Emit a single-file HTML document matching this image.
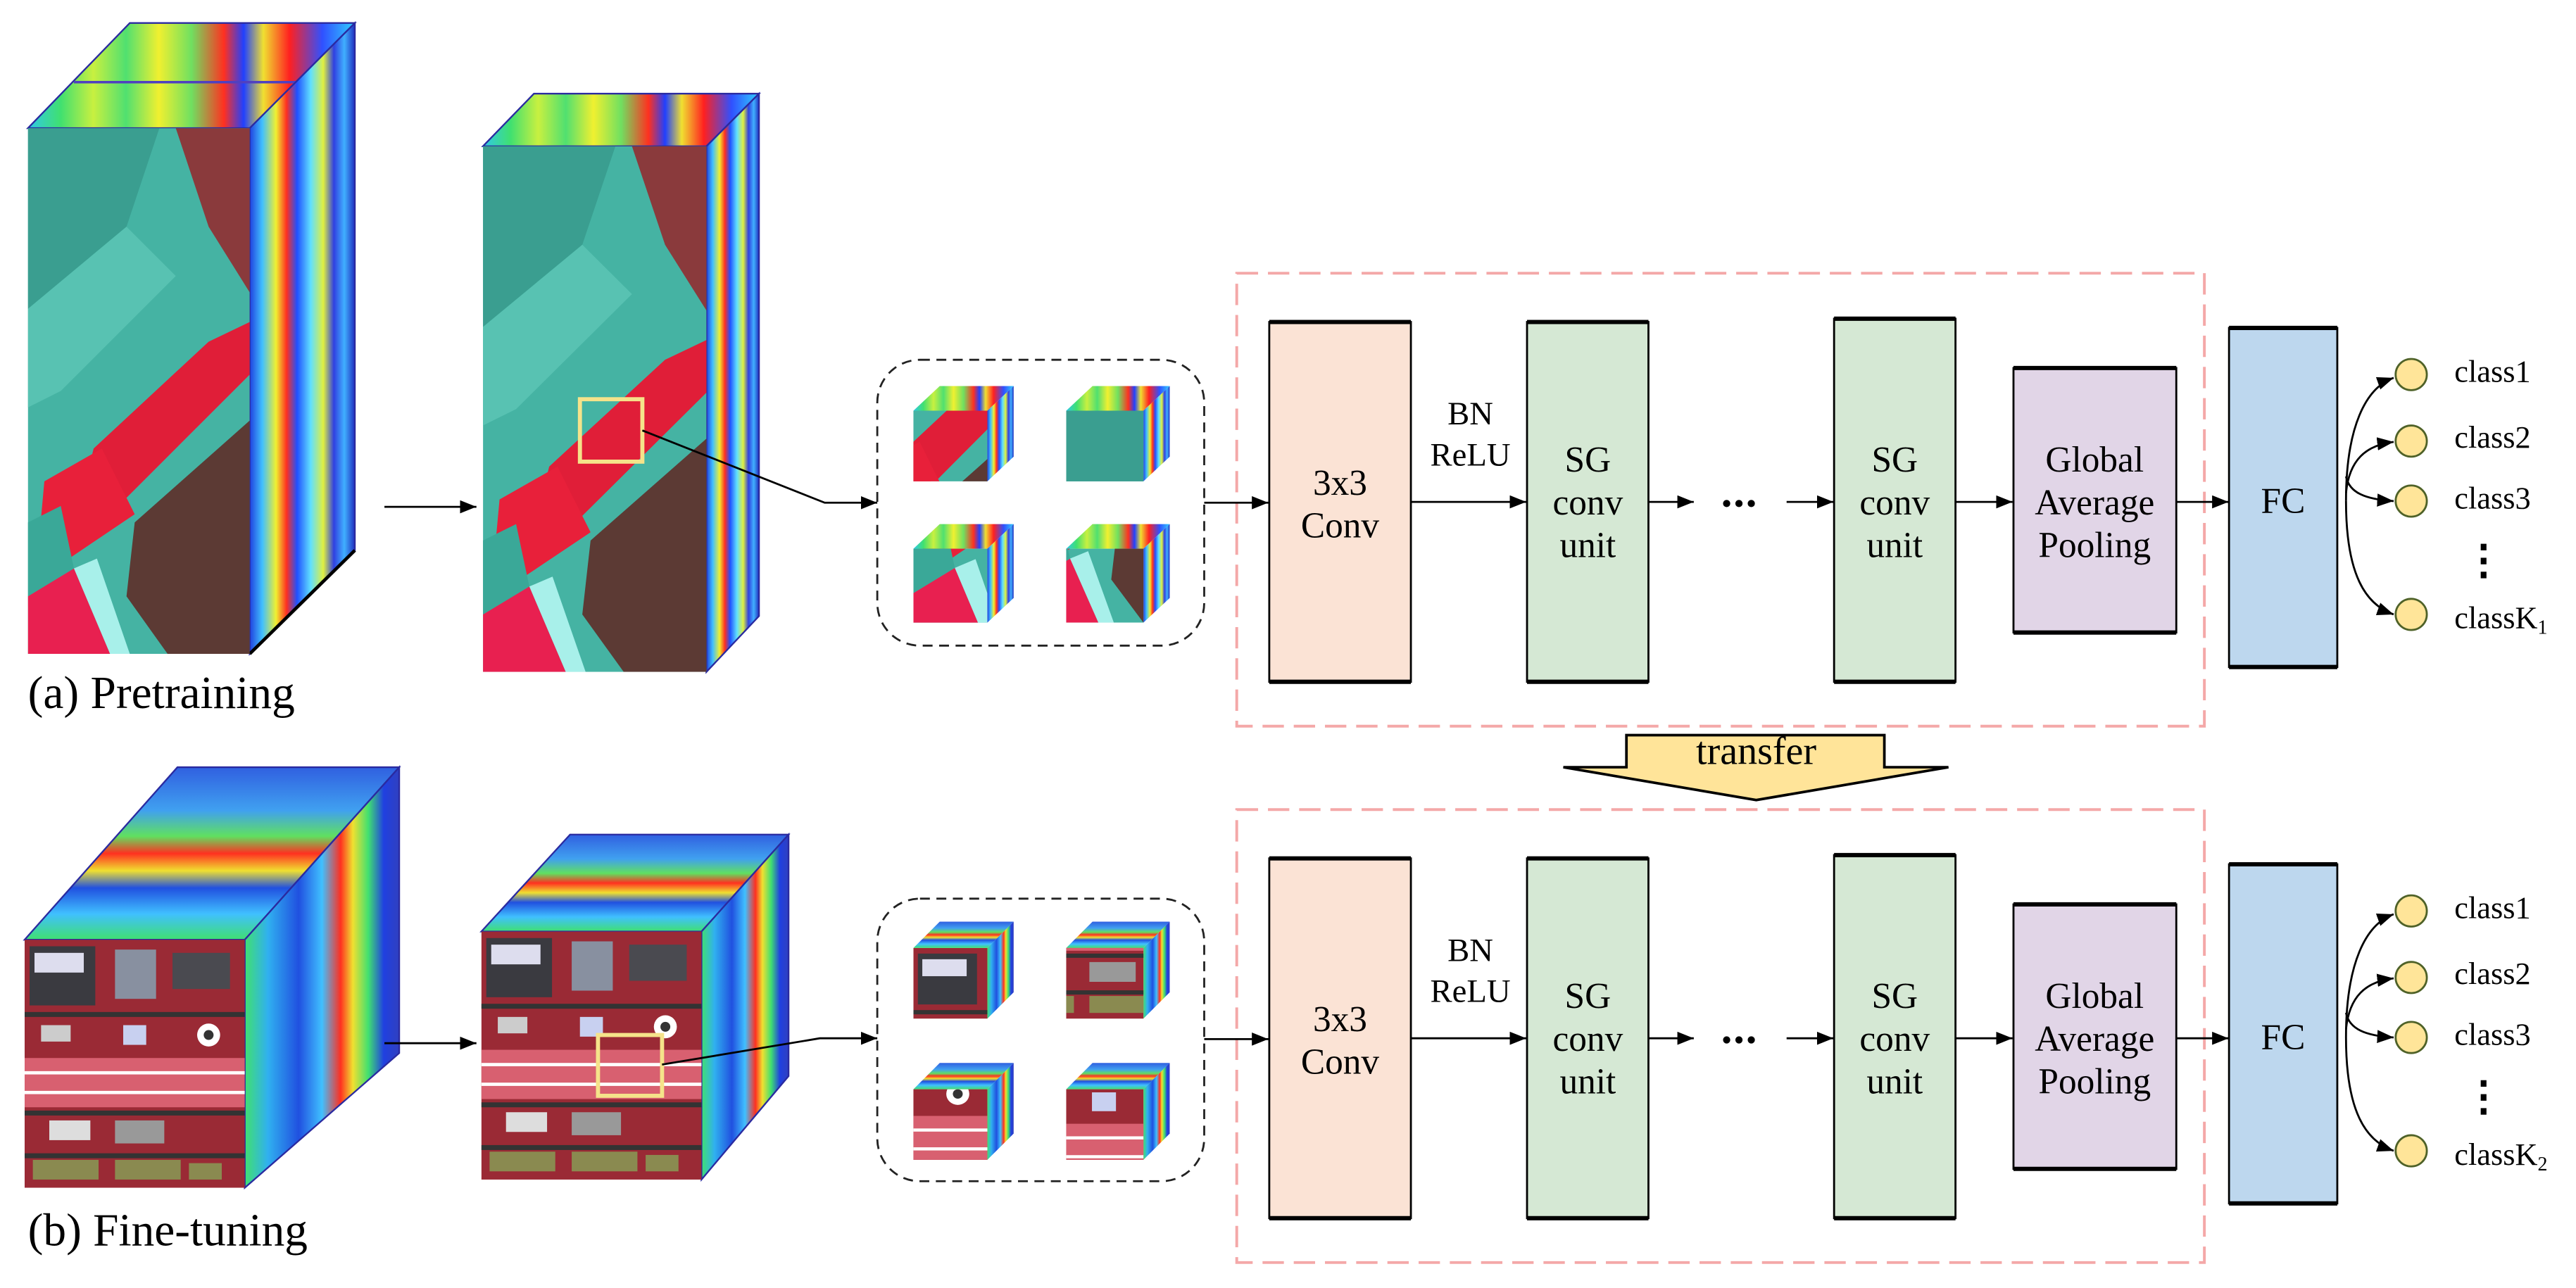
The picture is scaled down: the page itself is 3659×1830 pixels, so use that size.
<!DOCTYPE html>
<html><head><meta charset="utf-8"><style>
html,body{margin:0;padding:0;background:#fff;}
svg{display:block;}
text{font-family:"Liberation Serif","Times New Roman",serif;fill:#000;}
</style></head><body>
<svg width="3659" height="1830" viewBox="0 0 1568 784" preserveAspectRatio="none" xmlns="http://www.w3.org/2000/svg" font-family="'Liberation Serif', serif">
<defs>
<marker id="ar" markerWidth="10" markerHeight="8" refX="10" refY="4" orient="auto" markerUnits="userSpaceOnUse">
<path d="M0,0 L10,4 L0,8 Z" fill="#000"/></marker>
<linearGradient id="hx" x1="0" y1="0" x2="1" y2="0">
<stop offset="0" stop-color="#30c8e8"/><stop offset=".1" stop-color="#40e070"/><stop offset=".2" stop-color="#c8f040"/>
<stop offset=".3" stop-color="#50e070"/><stop offset=".4" stop-color="#f0f030"/><stop offset=".5" stop-color="#70e060"/>
<stop offset=".6" stop-color="#ff3020"/><stop offset=".66" stop-color="#2040ff"/><stop offset=".72" stop-color="#f0e030"/>
<stop offset=".8" stop-color="#ff2020"/><stop offset=".9" stop-color="#3050ff"/><stop offset="1" stop-color="#30d0ff"/></linearGradient>
<linearGradient id="hs" x1="0" y1="0" x2="1" y2="0">
<stop offset="0" stop-color="#2040e0"/><stop offset=".12" stop-color="#40c0ff"/><stop offset=".25" stop-color="#f0f030"/>
<stop offset=".35" stop-color="#ff3020"/><stop offset=".45" stop-color="#2050ff"/><stop offset=".58" stop-color="#60e0ff"/>
<stop offset=".7" stop-color="#e0f040"/><stop offset=".8" stop-color="#3040e0"/><stop offset=".9" stop-color="#40b0ff"/><stop offset="1" stop-color="#2030c0"/></linearGradient>
<linearGradient id="hb" x1="0" y1="0" x2="0" y2="1">
<stop offset="0" stop-color="#3060e0"/><stop offset=".25" stop-color="#40a0f0"/><stop offset=".4" stop-color="#60e060"/>
<stop offset=".5" stop-color="#ff3020"/><stop offset=".6" stop-color="#f0e030"/><stop offset=".7" stop-color="#2050e0"/>
<stop offset=".85" stop-color="#40c0ff"/><stop offset="1" stop-color="#40e070"/></linearGradient>
<linearGradient id="ht" x1="0" y1="0" x2="1" y2="0">
<stop offset="0" stop-color="#40e070"/><stop offset=".15" stop-color="#30b0f0"/><stop offset=".35" stop-color="#2050e0"/>
<stop offset=".5" stop-color="#40c0ff"/><stop offset=".62" stop-color="#ff3020"/><stop offset=".7" stop-color="#f0e030"/>
<stop offset=".8" stop-color="#40e070"/><stop offset=".9" stop-color="#2040e0"/><stop offset="1" stop-color="#3040c0"/></linearGradient>
<g id="faceA">
<rect x="0" y="0" width="135" height="320" fill="#45b3a3"/>
<polygon points="0,0 80,0 60,60 0,110" fill="#3a9e90"/>
<polygon points="0,110 60,60 90,90 20,160 0,170" fill="#58c2b2"/>
<polygon points="90,0 135,0 135,100 110,60" fill="#8a3a3c"/>
<polygon points="40,195 110,130 135,118 135,150 60,225 30,235" fill="#e01e38"/>
<polygon points="10,215 45,195 65,235 25,262 5,270" fill="#e8203a"/>
<polygon points="65,240 135,178 135,320 85,320 60,285" fill="#5c3a34"/>
<polygon points="0,285 28,268 50,320 0,320" fill="#e82050"/>
<polygon points="28,268 42,262 62,320 50,320" fill="#a8f0ea"/>
<polygon points="0,240 20,230 28,268 0,285" fill="#3aa898"/>
</g>
<g id="faceB">
<rect x="0" y="0" width="134" height="151" fill="#9a2a35"/>
<rect x="3" y="4" width="40" height="36" fill="#3a3a40"/>
<rect x="6" y="8" width="30" height="12" fill="#dde"/>
<rect x="55" y="6" width="25" height="30" fill="#8890a0"/>
<rect x="90" y="8" width="35" height="22" fill="#4a4a50"/>
<rect x="0" y="44" width="134" height="3" fill="#333"/>
<rect x="10" y="52" width="18" height="10" fill="#ccc"/><rect x="60" y="52" width="14" height="12" fill="#c8d0f0"/>
<circle cx="112" cy="58" r="7" fill="#fff"/><circle cx="112" cy="58" r="3" fill="#333"/>
<rect x="0" y="72" width="134" height="30" fill="#d86070"/>
<rect x="0" y="80" width="134" height="2" fill="#fff"/><rect x="0" y="92" width="134" height="2" fill="#fff"/>
<rect x="0" y="104" width="134" height="3" fill="#333"/>
<rect x="15" y="110" width="25" height="12" fill="#ddd"/><rect x="55" y="110" width="30" height="14" fill="#999"/>
<rect x="0" y="130" width="134" height="3" fill="#333"/>
<rect x="5" y="134" width="40" height="12" fill="#8a8a50"/><rect x="55" y="134" width="40" height="12" fill="#8a8a50"/><rect x="100" y="136" width="20" height="10" fill="#8a8a50"/>
</g>
</defs>

<!-- Cube a1 -->
<polygon points="17,78 79,14 216,14 152,78" fill="url(#hx)" stroke="#2a2aa0" stroke-width="1"/>
<line x1="45" y1="50" x2="185" y2="50" stroke="#5040c0" stroke-width="1.5"/>
<polygon points="152,78 216,14 216,335 152,398" fill="url(#hs)" stroke="#2a2aa0" stroke-width="1"/>
<line x1="152" y1="398" x2="216" y2="335" stroke="#000" stroke-width="2"/>
<svg x="17" y="78" width="135" height="320" viewBox="0 0 135 320" preserveAspectRatio="none"><use href="#faceA"/></svg>
<!-- Cube a2 -->
<polygon points="294,89 325,57 462,57 430,89" fill="url(#hx)" stroke="#2a2aa0" stroke-width="1"/>
<polygon points="430,89 462,57 462,375 430,409" fill="url(#hs)" stroke="#2a2aa0" stroke-width="1"/>
<svg x="294" y="89" width="136" height="320" viewBox="0 0 135 320" preserveAspectRatio="none"><use href="#faceA"/></svg>
<rect x="353" y="243" width="38" height="38" fill="none" stroke="#f5e38a" stroke-width="2.5"/>

<!-- small cubes a -->
<g>
<polygon points="556,250 572,235 617,235 601,250" fill="url(#hx)"/><polygon points="601,250 617,235 617,278 601,293" fill="url(#hs)"/>
<svg x="556" y="250" width="45" height="43" viewBox="40 170 60 57" preserveAspectRatio="none"><use href="#faceA"/></svg>
<polygon points="649,250 665,235 712,235 696,250" fill="url(#hx)"/><polygon points="696,250 712,235 712,278 696,293" fill="url(#hs)"/>
<svg x="649" y="250" width="47" height="43" viewBox="0 0 60 55" preserveAspectRatio="none"><use href="#faceA"/></svg>
<polygon points="556,334 572,319 617,319 601,334" fill="url(#hx)"/><polygon points="601,334 617,319 617,364 601,379" fill="url(#hs)"/>
<svg x="556" y="334" width="45" height="45" viewBox="0 255 50 50" preserveAspectRatio="none"><use href="#faceA"/></svg>
<polygon points="649,334 665,319 712,319 696,334" fill="url(#hx)"/><polygon points="696,334 712,319 712,364 696,379" fill="url(#hs)"/>
<svg x="649" y="334" width="47" height="45" viewBox="25 260 60 60" preserveAspectRatio="none"><use href="#faceA"/></svg>
</g>
<rect x="534" y="219" width="199" height="174" rx="26" fill="none" stroke="#222" stroke-width="1.2" stroke-dasharray="6,4"/>

<!-- Cube b1 -->
<polygon points="15,572 108,467 243,467 149,572" fill="url(#hb)" stroke="#2a2aa0" stroke-width="1"/>
<polygon points="149,572 243,467 243,641 149,723" fill="url(#ht)" stroke="#2a2aa0" stroke-width="1"/>
<svg x="15" y="572" width="134" height="151" viewBox="0 0 134 151" preserveAspectRatio="none"><use href="#faceB"/></svg>
<!-- Cube b2 -->
<polygon points="293,567 347,508 480,508 427,567" fill="url(#hb)" stroke="#2a2aa0" stroke-width="1"/>
<polygon points="427,567 480,508 480,655 427,718" fill="url(#ht)" stroke="#2a2aa0" stroke-width="1"/>
<svg x="293" y="567" width="134" height="151" viewBox="0 0 134 151" preserveAspectRatio="none"><use href="#faceB"/></svg>
<rect x="364" y="630" width="39" height="37" fill="none" stroke="#f5e38a" stroke-width="2.5"/>

<!-- small cubes b -->
<g>
<polygon points="556,577 572,561 617,561 601,577" fill="url(#hb)"/><polygon points="601,577 617,561 617,604 601,620" fill="url(#ht)"/>
<svg x="556" y="577" width="45" height="43" viewBox="0 0 50 50" preserveAspectRatio="none"><use href="#faceB"/></svg>
<polygon points="649,577 665,561 712,561 696,577" fill="url(#hb)"/><polygon points="696,577 712,561 712,604 696,620" fill="url(#ht)"/>
<svg x="649" y="577" width="47" height="43" viewBox="40 100 50 50" preserveAspectRatio="none"><use href="#faceB"/></svg>
<polygon points="556,663 572,647 617,647 601,663" fill="url(#hb)"/><polygon points="601,663 617,647 617,690 601,706" fill="url(#ht)"/>
<svg x="556" y="663" width="45" height="43" viewBox="85 55 45 45" preserveAspectRatio="none"><use href="#faceB"/></svg>
<polygon points="649,663 665,647 712,647 696,663" fill="url(#hb)"/><polygon points="696,663 712,647 712,690 696,706" fill="url(#ht)"/>
<svg x="649" y="663" width="47" height="43" viewBox="45 50 45 45" preserveAspectRatio="none"><use href="#faceB"/></svg>
</g>
<rect x="534" y="547" width="199" height="172" rx="26" fill="none" stroke="#222" stroke-width="1.2" stroke-dasharray="6,4"/>

<!-- connectors left -->
<g stroke="#000" stroke-width="1.2" fill="none">
<line x1="234" y1="308.5" x2="290" y2="308.5" marker-end="url(#ar)"/>
<polyline points="391,262 502,306 534,306" marker-end="url(#ar)"/>
<line x1="234" y1="635" x2="290" y2="635" marker-end="url(#ar)"/>
<polyline points="403,648 499,632 534,632" marker-end="url(#ar)"/>
</g>

<!-- transfer arrow -->
<polygon points="990,447.5 1147,447.5 1147,467 1186,467 1069,487 951.6,467 990,467" fill="#ffe499" stroke="#000" stroke-width="1.6"/>
<text x="1069" y="465" font-size="24" text-anchor="middle">transfer</text>

<!-- pipelines -->
<g id="pipe">
<rect x="752.8" y="166.3" width="589" height="275.7" fill="none" stroke="#f4a8a8" stroke-width="1.7" stroke-dasharray="13,6"/>
<g stroke="#000" stroke-width="1.2">
<rect x="772.6" y="196" width="86.2" height="219" fill="#fbe3d5"/>
<rect x="929.5" y="196" width="73.9" height="219" fill="#d5e8d4"/>
<rect x="1116.4" y="194" width="73.9" height="221" fill="#d5e8d4"/>
<rect x="1225.6" y="224" width="99.1" height="161" fill="#e1d5e7"/>
<rect x="1356.8" y="199.6" width="65.9" height="206.4" fill="#bdd7ee"/>
</g>
<g stroke="#000" stroke-width="2.6">
<line x1="772.6" y1="196" x2="858.8" y2="196"/><line x1="772.6" y1="415" x2="858.8" y2="415"/>
<line x1="929.5" y1="196" x2="1003.4" y2="196"/><line x1="929.5" y1="415" x2="1003.4" y2="415"/>
<line x1="1116.4" y1="194" x2="1190.3" y2="194"/><line x1="1116.4" y1="415" x2="1190.3" y2="415"/>
<line x1="1225.6" y1="224" x2="1324.7" y2="224"/><line x1="1225.6" y1="385" x2="1324.7" y2="385"/>
<line x1="1356.8" y1="199.6" x2="1422.7" y2="199.6"/><line x1="1356.8" y1="406" x2="1422.7" y2="406"/>
</g>
<g stroke="#000" stroke-width="1.2" fill="none">
<line x1="733" y1="306" x2="772" y2="306" marker-end="url(#ar)"/>
<line x1="858.8" y1="305.5" x2="929" y2="305.5" marker-end="url(#ar)"/>
<line x1="1003.4" y1="305.5" x2="1031" y2="305.5" marker-end="url(#ar)"/>
<line x1="1087.5" y1="305.5" x2="1116" y2="305.5" marker-end="url(#ar)"/>
<line x1="1190.3" y1="305.5" x2="1225" y2="305.5" marker-end="url(#ar)"/>
<line x1="1324.7" y1="305.5" x2="1356.5" y2="305.5" marker-end="url(#ar)"/>
<path d="M1428,305 C1428,260 1440,236 1457,230" marker-end="url(#ar)"/>
<path d="M1428,300 C1430,280 1440,271 1457,269" marker-end="url(#ar)"/>
<path d="M1428,290 C1430,300 1440,304 1457,305" marker-end="url(#ar)"/>
<path d="M1428,305 C1428,350 1440,368 1457,374" marker-end="url(#ar)"/>
</g>
<circle cx="1051" cy="306.5" r="2.2"/><circle cx="1058.5" cy="306.5" r="2.2"/><circle cx="1066" cy="306.5" r="2.2"/>
<g fill="#ffe599" stroke="#4f6228" stroke-width="1.2">
<circle cx="1467.7" cy="228" r="9.5"/><circle cx="1467.7" cy="268.5" r="9.5"/><circle cx="1467.7" cy="305" r="9.5"/><circle cx="1467.7" cy="374" r="9.5"/>
</g>
<rect x="1510" y="331" width="3.5" height="4"/><rect x="1510" y="339.5" width="3.5" height="4"/><rect x="1510" y="348" width="3.5" height="4"/>
<g font-size="22" text-anchor="middle" dominant-baseline="central">
<text x="815.7" y="294">3x3</text><text x="815.7" y="320">Conv</text>
<text x="966.5" y="280">SG</text><text x="966.5" y="306">conv</text><text x="966.5" y="332">unit</text>
<text x="1153.3" y="280">SG</text><text x="1153.3" y="306">conv</text><text x="1153.3" y="332">unit</text>
<text x="1275" y="280">Global</text><text x="1275" y="306">Average</text><text x="1275" y="332">Pooling</text>
<text x="1389.7" y="305">FC</text>
<text x="895" y="252" font-size="20">BN</text><text x="895" y="277" font-size="20">ReLU</text>
</g>
<g font-size="19" dominant-baseline="central">
<text x="1494" y="226">class1</text><text x="1494" y="266">class2</text><text x="1494" y="303">class3</text>
</g>
</g>
<use href="#pipe" transform="translate(0,326.5)"/>
<text x="1494" y="376" font-size="19" dominant-baseline="central">classK<tspan font-size="12" dy="6">1</tspan></text>
<text x="1494" y="702.5" font-size="19" dominant-baseline="central">classK<tspan font-size="12" dy="6">2</tspan></text>

<text x="17" y="431" font-size="28">(a) Pretraining</text>
<text x="17" y="758" font-size="28">(b) Fine-tuning</text>
</svg>
</body></html>
